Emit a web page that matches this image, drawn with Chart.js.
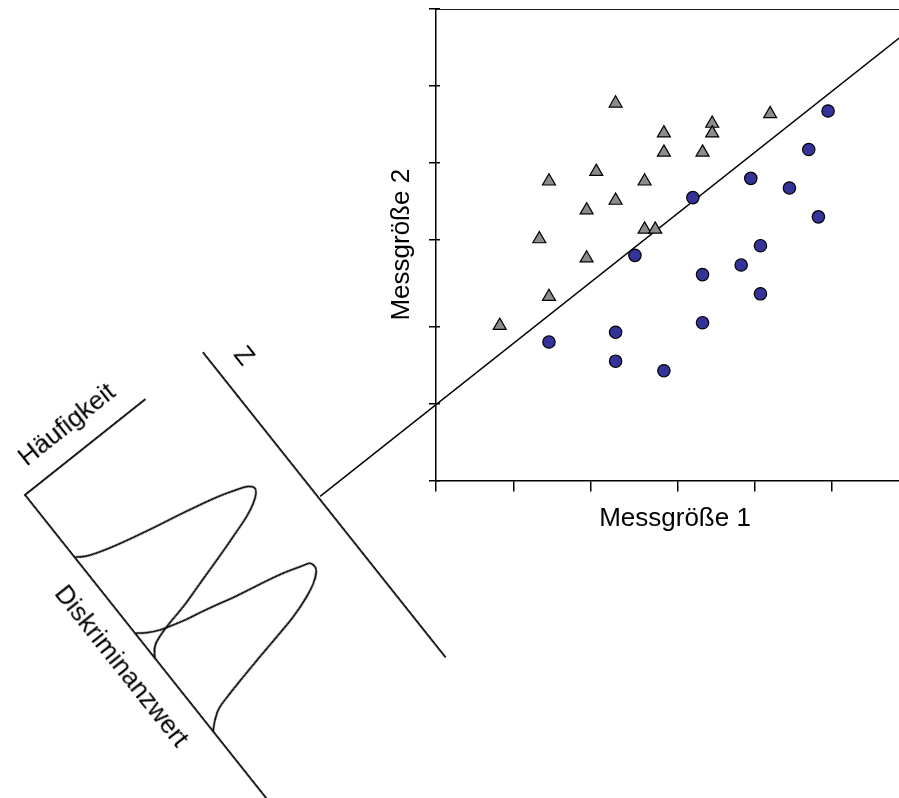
<!DOCTYPE html>
<html>
<head>
<meta charset="utf-8">
<script src="https://cdn.jsdelivr.net/npm/chart.js@4"></script>
<style>
html, body { margin: 0; padding: 0; background: #fff; overflow: hidden; }
#wrap { position: relative; width: 899px; height: 798px; overflow: hidden; background: #fff; }
#scatter { position: absolute; left: 0; top: 0; }
#dist { position: absolute; left: -35px; top: 207px; transform-origin: 60px 288px; transform: rotate(51.5deg); }
</style>
</head>
<body>
<div id="wrap">
  <canvas id="scatter" width="914" height="798"></canvas>
  <canvas id="dist" width="458" height="348"></canvas>
</div>
<script>
// Gruppe A (Dreiecke): Messgröße 1 / Messgröße 2
const groupAx = [18.6, 34.6, 28.6, 23.6, 28.6, 23.6, 27.6, 16.6, 11.7, 21.6, 18.6, 15.6, 21.6, 22.7, 10.7, 15.6, 11.7, 6.6];
const groupAy = [39.2, 38.1, 37.1, 36.1, 36.1, 34.1, 34.1, 32.1, 31.1, 31.1, 29.1, 28.1, 26.1, 26.1, 25.1, 23.1, 19.1, 16.1];

// Gruppe B (Kreise)
const groupBx = [40.6, 38.6, 32.6, 36.6, 26.6, 39.6, 33.6, 20.6, 31.6, 27.6, 33.6, 27.6, 18.6, 11.7, 18.6, 23.6];
const groupBy = [38.4, 34.4, 31.4, 30.4, 29.4, 27.4, 24.4, 23.4, 22.4, 21.4, 19.4, 16.4, 15.4, 14.4, 12.4, 11.4];

// Trennlinie (reicht links bis zur Z-Achse)
const splitX = [-12, 49.5];
const splitY = [-1.65, 47.2];

// Teilstriche beider Achsen
const axisTicks = [0, 8, 16, 25, 33, 41, 49];

// Häufigkeitsverteilungen entlang der Diskriminanzachse
const dist1X = [20.5, 22.2, 23.5, 24.8, 27.0, 29.0, 31.2, 32.6, 33.9, 35.6, 36.7, 38.3, 39.9, 41.8, 43.9, 45.9, 47.9, 49.3, 50.9, 53.8];
const dist1Y = [0, 6.7, 15.3, 26.6, 49.9, 73.8, 97.1, 108.3, 116.8, 120.4, 118.9, 113.4, 104.6, 89.5, 71.6, 53.6, 35.6, 18.9, 6.7, 0];
const dist2X = [45.5, 47.3, 48.9, 50.0, 51.0, 51.8, 52.9, 54.1, 55.1, 56.1, 57.2, 58.6, 59.5, 61.0, 62.5, 64.1, 65.7, 67.6, 69.0, 70.3, 71.7, 72.9, 74.0, 75.9, 77.9];
const dist2Y = [0, 6.2, 14.2, 23.0, 32.1, 41.6, 53.3, 64.9, 76.7, 88.8, 100.3, 111.5, 118.0, 119.2, 117.0, 111.5, 102.7, 87.7, 71.1, 54.4, 37.7, 24.2, 13.6, 5.6, 0];

const toPoints = (xs, ys) => xs.map((x, i) => ({ x: x, y: ys[i] }));
const fixSize = (w, h) => (axis) => {
    if (w !== null) axis.width = w;
    if (h !== null) axis.height = h;
};
const setTicks = (list) => (axis) => {
    axis.ticks = list.map(v => ({ value: v }));
};
const labelFont = { family: 'Liberation Sans, Arial, sans-serif', size: 26 };
const hidden = { display: false };
const noGrid = { display: false, drawTicks: false };

// Streudiagramm
new Chart(document.getElementById('scatter'), {
    type: 'scatter',
    data: {
        datasets: [{
            label: 'Gruppe A',
            data: toPoints(groupAx, groupAy),
            pointStyle: 'triangle',
            pointRadius: 7.5,
            backgroundColor: '#8c8c8c',
            borderColor: '#000',
            borderWidth: 1.2
        }, {
            label: 'Gruppe B',
            data: toPoints(groupBx, groupBy),
            pointStyle: 'circle',
            pointRadius: 6.2,
            backgroundColor: '#333399',
            borderColor: '#000',
            borderWidth: 1.2
        }, {
            type: 'line',
            label: 'Trennlinie',
            data: toPoints(splitX, splitY),
            borderColor: '#000',
            borderWidth: 1.4,
            pointRadius: 0,
            fill: false,
            clip: false
        }]
    },
    options: {
        responsive: false,
        animation: false,
        devicePixelRatio: 1,
        layout: { autoPadding: false, padding: { left: 370, top: 9, right: 0, bottom: 257.5 } },
        plugins: { legend: hidden, tooltip: { enabled: false } },
        scales: {
            x: {
                type: 'linear', position: 'bottom', min: 0, max: 49.5,
                afterBuildTicks: setTicks(axisTicks),
                afterFit: fixSize(null, 60),
                ticks: hidden,
                grid: { drawOnChartArea: false, tickLength: 11, color: '#000', lineWidth: 1.5 },
                border: { color: '#000', width: 1.5 },
                title: { display: true, text: 'Messgröße 1', font: labelFont, color: '#000', padding: { top: 0, bottom: 5.7 } }
            },
            xTop: {
                axis: 'x', type: 'linear', position: 'top', min: 0, max: 49.5,
                afterFit: fixSize(null, 0),
                ticks: hidden,
                grid: noGrid,
                border: { color: '#222', width: 1 }
            },
            y: {
                type: 'linear', position: 'left', min: 0, max: 49,
                afterFit: fixSize(66, null),
                ticks: hidden,
                grid: noGrid,
                border: { color: '#000', width: 1.5 },
                title: { display: true, text: 'Messgröße 2', font: labelFont, color: '#000', padding: { top: 16.4, bottom: 0 } }
            },
            // Teilstriche, die die y-Achse kreuzen
            yMarks: {
                axis: 'y', type: 'linear', position: { x: 0.42 }, min: 0, max: 49,
                afterBuildTicks: setTicks(axisTicks),
                afterFit: fixSize(0, null),
                ticks: hidden,
                grid: { drawOnChartArea: false, tickLength: 11, color: '#000', lineWidth: 1.5 },
                border: hidden
            }
        }
    }
});

// Verteilungen auf der gedrehten Diskriminanzachse
new Chart(document.getElementById('dist'), {
    type: 'line',
    data: {
        datasets: [{
            label: 'Gruppe A',
            data: toPoints(dist1X, dist1Y)
        }, {
            label: 'Gruppe B',
            data: toPoints(dist2X, dist2Y)
        }]
    },
    options: {
        responsive: false,
        animation: false,
        devicePixelRatio: 1,
        layout: { autoPadding: false, padding: { left: 0, top: 0, right: 10, bottom: 0 } },
        elements: {
            point: { radius: 0 },
            line: { borderColor: '#000', borderWidth: 1.8, cubicInterpolationMode: 'monotone', fill: false }
        },
        datasets: { line: { clip: false } },
        plugins: { legend: hidden, tooltip: { enabled: false } },
        scales: {
            x: {
                type: 'linear', position: 'bottom', min: 0, max: 100,
                afterFit: fixSize(null, 60),
                ticks: hidden,
                grid: noGrid,
                border: { color: '#000', width: 1.8 },
                title: { display: true, text: 'Diskriminanzwert', font: labelFont, color: '#000', padding: { top: 0, bottom: 12.4 } }
            },
            zRest: {
                axis: 'x', type: 'linear', position: 'top', stack: 'z', stackWeight: 333, min: 0, max: 1,
                afterFit: fixSize(null, 60),
                ticks: hidden,
                grid: noGrid,
                border: { color: '#000', width: 1.8 }
            },
            z: {
                axis: 'x', type: 'linear', position: 'top', stack: 'z', stackWeight: 55, min: 0, max: 1,
                afterFit: fixSize(null, 60),
                ticks: hidden,
                grid: noGrid,
                border: { color: '#000', width: 1.8 },
                title: { display: true, text: 'Z', font: labelFont, color: '#000', padding: { top: 15.4, bottom: 0 } }
            },
            y: {
                type: 'linear', position: 'left', stack: 'h', stackWeight: 153, min: 0, max: 100,
                afterFit: fixSize(60, null),
                ticks: hidden,
                grid: noGrid,
                border: { color: '#000', width: 1.8 },
                title: { display: true, text: 'Häufigkeit', font: labelFont, color: '#000', padding: { top: 16.6, bottom: 0 } }
            },
            yFree: {
                axis: 'y', type: 'linear', position: 'left', stack: 'h', stackWeight: 75, min: 0, max: 1,
                afterFit: fixSize(60, null),
                ticks: hidden,
                grid: noGrid,
                border: hidden
            }
        }
    }
});
</script>
</body>
</html>
